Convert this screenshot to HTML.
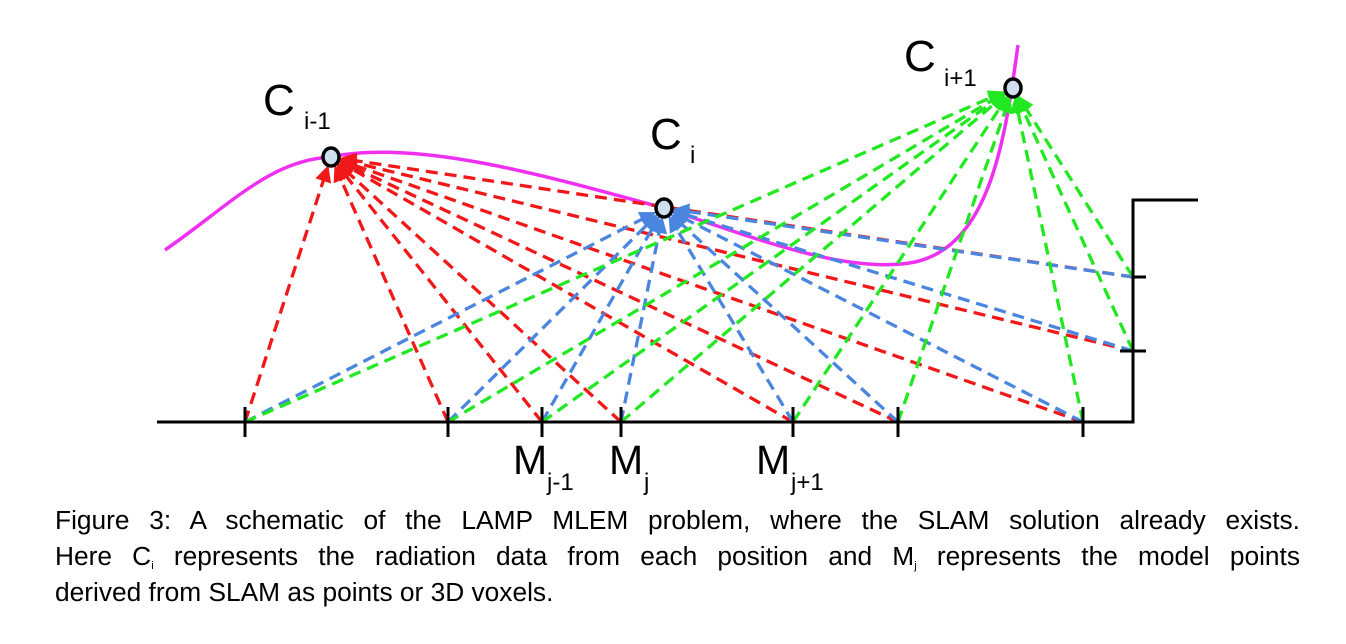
<!DOCTYPE html>
<html><head><meta charset="utf-8">
<style>
html,body{margin:0;padding:0;background:#fff;}
body{width:1346px;height:644px;position:relative;overflow:hidden;font-family:"Liberation Sans",Arial,sans-serif;}
svg{position:absolute;left:0;top:0;}
.cap{position:absolute;left:55px;width:1245px;font-size:26.3px;line-height:36px;color:#000;}
.cap div{text-align:justify;text-align-last:justify;white-space:nowrap;height:36px;}
.cap div.last{text-align-last:left;}
.cap sub{font-size:11px;line-height:0;vertical-align:-4px;}
</style></head>
<body>
<svg id="fig" width="1346" height="500">
  <defs>
    <marker id="ar-red" markerWidth="5" markerHeight="5" refX="4" refY="2.5" orient="auto"><path d="M0,0 L5,2.5 L0,5 z" fill="#f01818"/></marker>
    <marker id="ar-blue" markerWidth="5" markerHeight="5" refX="4" refY="2.5" orient="auto"><path d="M0,0 L5,2.5 L0,5 z" fill="#4a86e0"/></marker>
    <marker id="ar-green" markerWidth="5" markerHeight="5" refX="4" refY="2.5" orient="auto"><path d="M0,0 L5,2.5 L0,5 z" fill="#22e822"/></marker>
  </defs>
  <path d="M165,250 C230,205 270,160 331,157 C420,138 560,180 664,208 C760,240 850,275 915,262 C990,245 1005,140 1018,45" fill="none" stroke="#f030f0" stroke-width="3.5"/>
  <g id="rays"></g>
  <polyline points="157,422 1133,422 1133,200 1198,200" fill="none" stroke="#000" stroke-width="3"/>
  <g id="ticks"></g>
  <g id="cams"></g>
  <text x="263" y="115" font-size="44" font-family="Liberation Sans">C</text>
  <text x="304" y="129" font-size="24" font-family="Liberation Sans">i-1</text>
  <text x="650" y="149" font-size="44" font-family="Liberation Sans">C</text>
  <text x="690" y="163" font-size="24" font-family="Liberation Sans">i</text>
  <text x="904" y="71" font-size="44" font-family="Liberation Sans">C</text>
  <text x="944" y="86" font-size="24" font-family="Liberation Sans">i+1</text>
  <text x="513" y="474" font-size="41" font-family="Liberation Sans">M</text>
  <text x="547" y="490" font-size="24" font-family="Liberation Sans">j-1</text>
  <text x="609" y="474" font-size="41" font-family="Liberation Sans">M</text>
  <text x="644" y="490" font-size="24" font-family="Liberation Sans">j</text>
  <text x="756" y="474" font-size="41" font-family="Liberation Sans">M</text>
  <text x="791" y="490" font-size="24" font-family="Liberation Sans">j+1</text>
</svg>
<div class="cap" style="top:502px;">
  <div>Figure 3: A schematic of the LAMP MLEM problem, where the SLAM solution already exists.</div>
  <div>Here C<sub>i</sub> represents the radiation data from each position and M<sub>j</sub> represents the model points</div>
  <div class="last">derived from SLAM as points or 3D voxels.</div>
</div>
<script>
const camNames=["c-i-1","c-i","c-i+1"];
const camX=[331,664,1013];
const camY=[157,208,88];
const camColors=["#f01818","#4a86e0","#22e822"];
const camMarkers=["ar-red","ar-blue","ar-green"];
const groundX=[245,448,542,621,793,898,1083];
const groundY=422;
const wallX=1133;
const wallY=[277,351];
const NS="http://www.w3.org/2000/svg";
const targets=[];
groundX.forEach(x=>targets.push([x,groundY]));
wallY.forEach(y=>targets.push([wallX,y]));
const rays=document.getElementById('rays');
camX.forEach((cx,ci)=>{
  const cy=camY[ci];
  targets.forEach((t,ti)=>{
    const dx=cx-t[0],dy=cy-t[1],L=Math.hypot(dx,dy);
    const ex=cx-dx/L*12,ey=cy-dy/L*12;
    const l=document.createElementNS(NS,'line');
    l.setAttribute('x1',t[0]);l.setAttribute('y1',t[1]);
    l.setAttribute('x2',ex);l.setAttribute('y2',ey);
    l.setAttribute('stroke',camColors[ci]);l.setAttribute('stroke-width','3.3');
    l.setAttribute('stroke-dasharray','12 7');
    l.setAttribute('marker-end','url(#'+camMarkers[ci]+')');
    
    
    rays.appendChild(l);
  });
});
const ticks=document.getElementById('ticks');
groundX.forEach((x,i)=>{
  const l=document.createElementNS(NS,'line');
  l.setAttribute('x1',x);l.setAttribute('x2',x);l.setAttribute('y1',groundY-15);l.setAttribute('y2',groundY+15);
  l.setAttribute('stroke','#000');l.setAttribute('stroke-width','3');
  
  
  ticks.appendChild(l);
});
wallY.forEach((y,i)=>{
  const l=document.createElementNS(NS,'line');
  l.setAttribute('x1',i===0?wallX:wallX-13);l.setAttribute('x2',wallX+13);l.setAttribute('y1',y);l.setAttribute('y2',y);
  l.setAttribute('stroke','#000');l.setAttribute('stroke-width','3');
  
  
  ticks.appendChild(l);
});
const cams=document.getElementById('cams');
camX.forEach((x,i)=>{
  const c=document.createElementNS(NS,'ellipse');
  c.setAttribute('cx',x);c.setAttribute('cy',camY[i]);c.setAttribute('rx','8');c.setAttribute('ry','9');
  c.setAttribute('fill','#cfdfee');c.setAttribute('stroke','#000');c.setAttribute('stroke-width','3.5');
  
  
  cams.appendChild(c);
});
</script>
</body></html>
